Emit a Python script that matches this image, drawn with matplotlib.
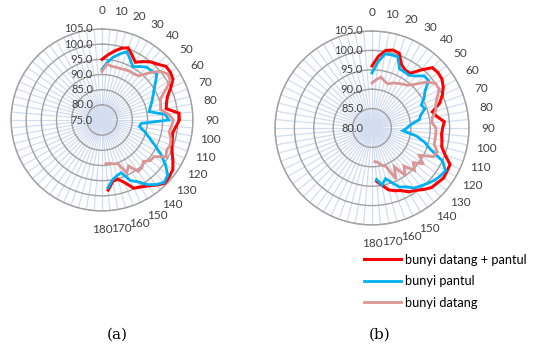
import numpy as np
import matplotlib
matplotlib.use("Agg")
import matplotlib.pyplot as plt
import matplotlib.transforms as mtransforms

plt.rcParams['font.family'] = ['Lato', 'DejaVu Sans']

# angle of measurement (degrees), 5 degree steps
angles = np.arange(0, 180, 5)

# chart (a)
a_datang_pantul = [95.0, 96.5, 98.0, 99.5, 100.3, 98.5, 97.0, 98.5, 100.0, 101.0, 102.5, 102.5,
                   102.0, 100.0, 98.0, 97.0, 96.5, 100.5, 100.5, 99.5, 98.7, 99.0, 99.5, 100.5,
                   102.0, 103.5, 104.0, 104.5, 103.0, 101.5, 100.5, 99.8, 97.0, 95.2, 95.5, 98.2]
a_pantul = [91.7, 94.0, 96.0, 97.5, 99.0, 97.0, 95.3, 96.5, 97.8, 98.0, 98.6, 96.5,
            94.8, 93.5, 92.5, 91.5, 90.8, 96.0, 97.0, 88.0, 87.5, 89.5, 91.4, 94.0,
            97.3, 100.5, 103.3, 104.0, 102.8, 101.0, 98.5, 97.0, 93.5, 94.0, 95.0, 97.4]
a_datang = [91.0, 93.5, 93.0, 93.0, 93.0, 93.3, 93.5, 93.5, 94.0, 97.0, 100.0, 101.5,
            101.0, 98.0, 95.5, 95.0, 94.6, 97.0, 98.5, 98.0, 97.5, 98.5, 99.0, 98.5,
            99.4, 96.0, 95.8, 94.3, 95.5, 95.7, 92.5, 94.3, 90.3, 90.0, 89.5, 89.5]

# chart (b)
b_datang_pantul = [96.0, 98.5, 100.3, 100.8, 100.5, 98.0, 97.2, 97.2, 99.5, 102.0, 102.2, 102.0,
                   101.2, 100.0, 98.5, 96.1, 97.0, 98.7, 98.2, 98.0, 98.3, 98.6, 100.0, 102.2,
                   102.3, 102.5, 102.0, 101.7, 100.7, 99.6, 99.0, 97.8, 97.2, 96.5, 95.0, 93.8]
b_pantul = [94.2, 97.0, 99.4, 99.5, 99.5, 96.8, 96.7, 96.6, 97.5, 99.0, 99.0, 96.7,
            95.5, 94.0, 94.5, 93.0, 92.4, 90.0, 89.0, 88.0, 91.5, 94.0, 96.0, 100.0,
            101.9, 101.5, 101.0, 100.2, 99.5, 98.9, 97.5, 96.8, 95.0, 93.5, 94.9, 93.3]
b_datang = [91.6, 92.5, 93.3, 92.5, 92.1, 92.8, 93.3, 93.8, 94.4, 96.0, 98.5, 100.0,
            100.0, 98.5, 97.5, 97.0, 95.8, 95.5, 96.5, 96.5, 96.5, 96.6, 97.9, 97.5,
            94.0, 96.0, 93.9, 95.5, 92.8, 95.0, 91.5, 94.5, 90.5, 90.0, 89.0, 88.7]

labels = ['bunyi datang + pantul', 'bunyi pantul', 'bunyi datang']
colors = ['#ff0000', '#00b0f0', '#d99694']

a_rings = [75, 80, 85, 90, 95, 100, 105]
b_rings = [80, 85, 90, 95, 100, 105]

W, H = 535, 344
fig = plt.figure(figsize=(W / 100, H / 100), dpi=100)


def radar(cx, cy, rad, rings, series):
    ax = fig.add_axes([(cx - rad) / W, 1 - (cy + rad) / H, 2 * rad / W, 2 * rad / H],
                      projection='polar')
    ax.set_theta_zero_location('N')
    ax.set_theta_direction(-1)
    ax.set_ylim(rings[0], rings[-1])
    spokes = np.arange(0, 360, 5)
    ax.set_xticks(np.deg2rad(spokes))
    ax.set_xticklabels([str(s) if s <= 180 and s % 10 == 0 else '' for s in spokes],
                       fontsize=8.5, color='#404040')
    ax.tick_params(axis='x', pad=3)
    ax.set_yticks(rings)
    ax.set_yticklabels([])
    ax.xaxis.grid(True, color='#d3ddf0', lw=0.9)
    ax.yaxis.grid(True, color='#a0a0a0', lw=1.0)
    ax.spines['polar'].set_color('#a0a0a0')
    ax.spines['polar'].set_linewidth(1.0)
    off = mtransforms.offset_copy(ax.transData, fig=fig, x=-9, y=0, units='dots')
    for r in rings:
        ax.text(0, r, f"{r:.1f}", transform=off, ha='right', va='center',
                fontsize=8, color='#404040')
    th = np.deg2rad(angles)
    lws = [2.2, 2.0, 2.0]
    for vals, c, lw, lab in zip(series, colors, lws, labels):
        ax.plot(th, vals, color=c, lw=lw, label=lab, solid_joinstyle='miter')
    return ax


ax_a = radar(102, 120, 91, a_rings, [a_datang_pantul, a_pantul, a_datang])
ax_b = radar(372, 128, 97, b_rings, [b_datang_pantul, b_pantul, b_datang])

fig.legend(*ax_b.get_legend_handles_labels(), loc='upper left',
           bbox_to_anchor=(352 / W, 1 - 242 / H), frameon=False, fontsize=9.2,
           handlelength=2.9, labelspacing=0.75, handletextpad=0.35)

fig.text(117 / W, 1 - 335 / H, '(a)', ha='center', va='center',
         family='DejaVu Serif', fontsize=11)
fig.text(380 / W, 1 - 335 / H, '(b)', ha='center', va='center',
         family='DejaVu Serif', fontsize=11)

fig.savefig('out.png', dpi=100)
